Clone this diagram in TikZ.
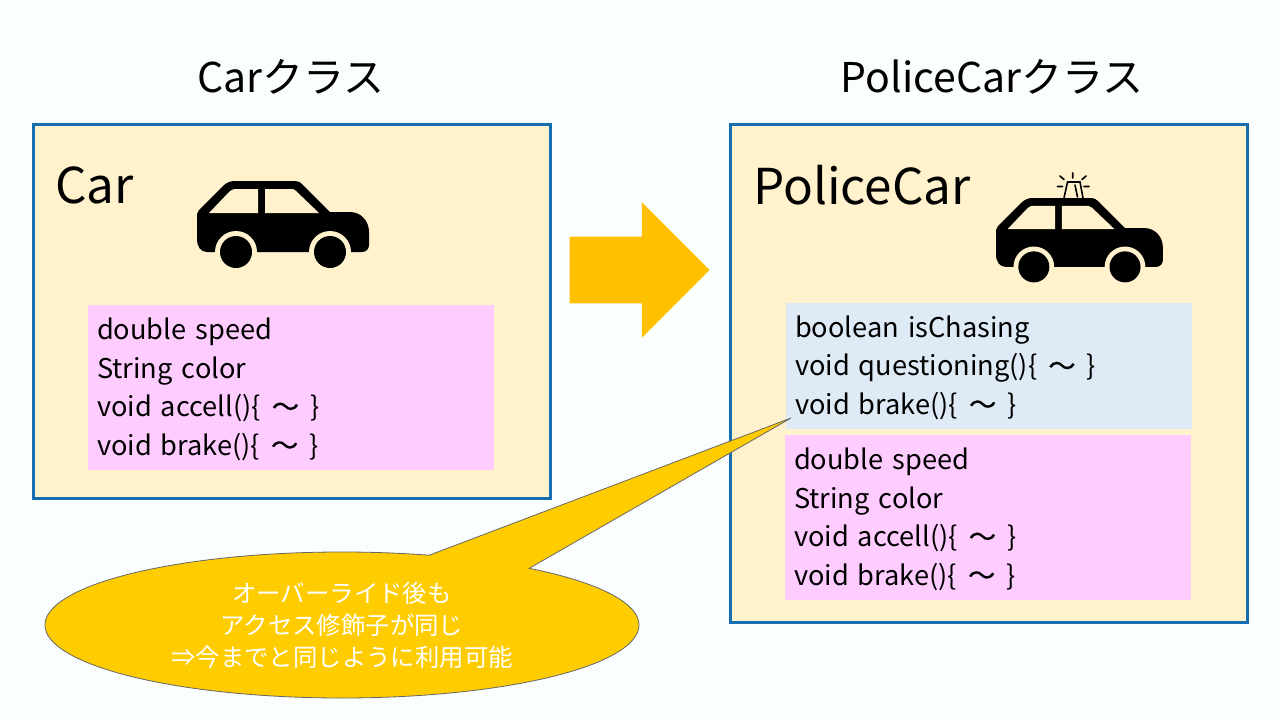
\documentclass[tikz,border=0pt]{standalone}
\usepackage{fontspec}
\usepackage{xcolor}
\usepackage{tikz}
\usetikzlibrary{shapes,shapes.callouts,arrows,positioning,calc}
\setmainfont{Noto Sans CJK JP}
\newfontfamily\wavefont[FakeBold=0.5]{Noto Sans CJK JP}
\definecolor{pagecolor}{RGB}{251, 254, 255}
\definecolor{panelcolor}{RGB}{255, 242, 204}
\definecolor{framecolor}{RGB}{20, 110, 175}
\definecolor{pinkcolor}{RGB}{255, 204, 255}
\definecolor{bluecolor}{RGB}{222, 234, 246}
\definecolor{arrowcolor}{RGB}{255, 192, 0}
\definecolor{bubblecolor}{RGB}{255, 204, 0}
\newcommand{\wavemark}{\hspace{1pt}{\wavefont ～}\hspace{1pt}}
\tikzset{
  pics/carshape/.style={code={
    \fill[black] (0,33) -- (2,29) -- (26,5) .. controls (29,2) and (33,0) .. (37,0) -- (98,0) .. controls (101,0) and (103,1) .. (105,3) -- (133,31) -- (153,31) .. controls (164,31) and (172,40) .. (172,51) -- (172,64) .. controls (172,68) and (169,71) .. (165,71) -- (10,71) .. controls (4,71) and (0,66) .. (0,58) -- cycle;
    \fill[panelcolor] (12,32) -- (32,11) .. controls (34,9) and (36,8) .. (38,8) -- (61,8) -- (61,32) -- cycle;
    \fill[panelcolor] (68,8) -- (95,8) .. controls (97,8) and (98,9) .. (99,10) -- (122,32) -- (68,32) -- cycle;
    \fill[panelcolor] (39,71) circle[radius=10.5pt] (133,71) circle[radius=10.5pt];
    \fill[black] (39,71) circle[radius=8pt] (133,71) circle[radius=8pt];
  }}
}
\begin{document}
\begin{tikzpicture}[x=0.5pt,y=-0.5pt,
panel/.style={draw=framecolor,line width=1.5pt,fill=panelcolor,minimum width=258.5pt,inner sep=0pt},
member/.style={minimum width=203pt,text width=194pt,inner xsep=4.5pt,inner ysep=0pt,align=left,font=\fontsize{13.6}{19.3}\selectfont,execute at begin node={\rule{0pt}{12.5pt}}},
titletext/.style={font=\fontsize{20.5}{24}\selectfont},
nametext/.style={font=\fontsize{24.7}{28}\selectfont,anchor=west,inner sep=0pt},
beacon/.style={line width=0.8pt,line cap=round}]
\useasboundingbox (0,0) rectangle (1280,720);
\fill[pagecolor] (0,0) rectangle (1280,720);
\node[titletext](cartitle) at (291,77){Carクラス}; \node[titletext](policetitle) at (992,77){PoliceCarクラス};
\node[panel,minimum height=187pt](carpanel) at (292,311.5){}; \node[panel,minimum height=249pt](policepanel) at (989,373.5){};
\node[nametext](carname) at (55,185){Car}; \node[nametext](policename) at (753,185){PoliceCar};
\pic at (197,181) {carshape}; \pic[scale=0.97] at (996,198) {carshape};
\draw[beacon] (1064,198)--(1067.5,182)--(1080,182)--(1083,198) (1075,185)--(1077.5,197);
\draw[beacon] (1072.7,173)--(1072.7,178) (1060,176)--(1064,179.5) (1086,176)--(1082,179.5) (1057.5,186.5)--(1062.5,186.5) (1084,186.5)--(1089,186.5);
\node[member,fill=pinkcolor,minimum height=82.5pt](carfields) at (291,387.5){double speed\\String color\\void accell()\{ \wavemark{} \}\\void brake()\{ \wavemark{} \}};
\node[member,fill=bluecolor,minimum height=63pt](policefields) at (989,366){boolean isChasing\\void questioning()\{ \wavemark{} \}\\void brake()\{ \wavemark{} \}};
\node[member,fill=pinkcolor,minimum height=82.5pt](basefields) at (988,517.5){double speed\\String color\\void accell()\{ \wavemark{} \}\\void brake()\{ \wavemark{} \}};
\node[single arrow,fill=arrowcolor,minimum height=70pt,minimum width=67.5pt,single arrow head extend=17.25pt,single arrow head indent=0pt,inner xsep=0pt,inner ysep=16.5pt](inherit) at (623,270){};
\coordinate (tip) at (791,418);
\node[ellipse callout,callout absolute pointer=(tip),callout pointer arc=22,draw=black!60,line width=0.4pt,fill=bubblecolor,text=white,minimum width=297pt,minimum height=73pt,inner sep=0pt,align=center,font=\fontsize{12.2}{16}\selectfont](note) at (342,625){オーバーライド後も\\アクセス修飾子が同じ\\⇒今までと同じように利用可能};
\end{tikzpicture}
\end{document}
